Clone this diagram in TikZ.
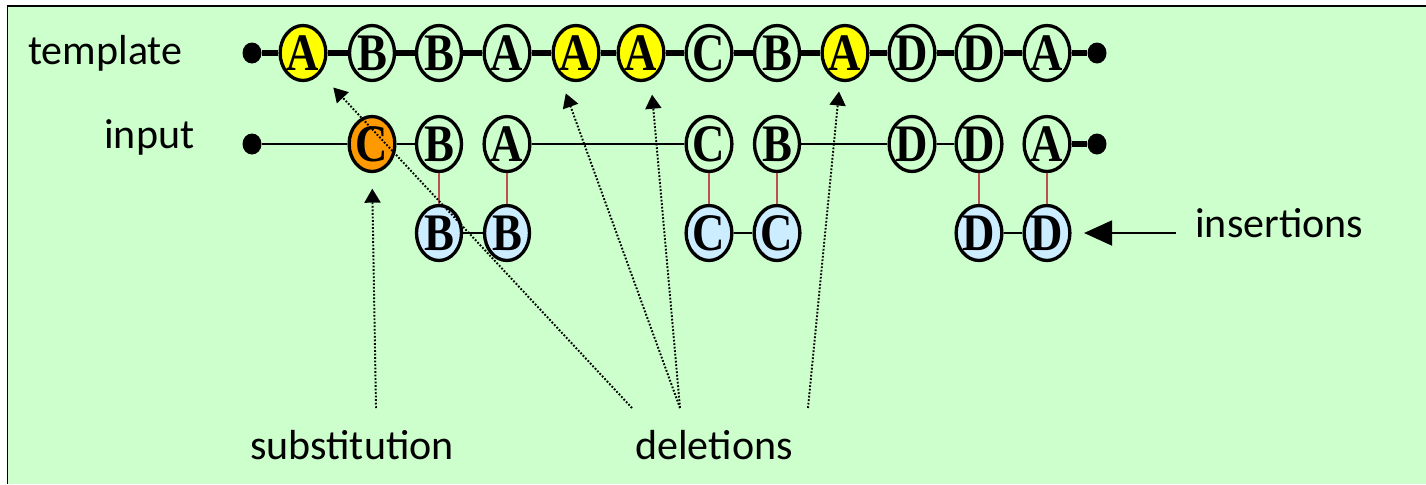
\documentclass[tikz,border=0pt]{standalone}
\usepackage{fontspec}
\setmainfont{Carlito}
\newfontfamily\letterfont{Liberation Serif}[FakeStretch=0.85,UprightFont={* Bold}]
\usepackage{tikz}
\usetikzlibrary{shapes.geometric,arrows.meta}
\definecolor{bggreen}{HTML}{CCFFCC}
\definecolor{delyellow}{HTML}{FFFF00}
\definecolor{suborange}{HTML}{FF9900}
\definecolor{insblue}{HTML}{CCECFF}
\definecolor{linkred}{HTML}{C0504D}

\begin{document}
\begin{tikzpicture}[x=0.02cm,y=-0.02cm,
    sym/.style={ellipse,draw,line width=1.9pt,minimum width=0.9cm,minimum height=1.1cm,inner sep=0pt,
        font=\letterfont\fontsize{30}{32}\selectfont},
    enddot/.style={ellipse,fill=black,minimum width=0.38cm,minimum height=0.42cm,inner sep=0pt},
    lbl/.style={anchor=base west,inner sep=0pt,font=\fontsize{23.9}{28}\selectfont},
    tline/.style={line width=3pt},
    iline/.style={line width=1.5pt},
    redlink/.style={draw=linkred,line width=1.2pt},
    pointer/.style={dash pattern=on 1pt off 1pt,line width=1.1pt,-{Triangle[length=0.28cm,width=0.32cm]}}]
    \useasboundingbox (0,0) rectangle (1426,484);
    \fill[bggreen] (7.5,6) rectangle (1426,484);
    \draw[line width=1.1pt] (7.5,484) -- (7.5,6) -- (1426,6);
    % labels
    \node[lbl] (tmpllbl) at (28,64) {template};
    \node[lbl] (inplbl) at (104,148) {input};
    \node[lbl] (sublbl) at (250,459) {substitution};
    \node[lbl] (dellbl) at (635,459) {deletions};
    \node[lbl] (inslbl) at (1195,237) {insertions};
    % template
    \node[enddot] (tl) at (252,53) {};
    \node[sym,fill=delyellow] (t1) at (303,53) {A};
    \node[sym] (t2) at (372,53) {B};
    \node[sym] (t3) at (439,53) {B};
    \node[sym] (t4) at (507,53) {A};
    \node[sym,fill=delyellow] (t5) at (576,53) {A};
    \node[sym,fill=delyellow] (t6) at (641,53) {A};
    \node[sym] (t7) at (709,53) {C};
    \node[sym] (t8) at (777,53) {B};
    \node[sym,fill=delyellow] (t9) at (845,53) {A};
    \node[sym] (t10) at (912,53) {D};
    \node[sym] (t11) at (979,53) {D};
    \node[sym] (t12) at (1047,53) {A};
    \node[enddot] (tr) at (1097,53) {};
    \draw[tline] (tl) -- (t1) -- (t2) -- (t3) -- (t4) -- (t5) -- (t6) -- (t7) -- (t8) -- (t9) -- (t10) -- (t11) -- (t12) -- (tr);
    % input
    \node[enddot] (il) at (252,144) {};
    \node[sym,fill=suborange] (i1) at (372,144) {C};
    \node[sym] (i2) at (439,144) {B};
    \node[sym] (i3) at (507,144) {A};
    \node[sym] (i4) at (709,144) {C};
    \node[sym] (i5) at (777,144) {B};
    \node[sym] (i6) at (912,144) {D};
    \node[sym] (i7) at (979,144) {D};
    \node[sym] (i8) at (1047,144) {A};
    \node[enddot] (ir) at (1097,144) {};
    \draw[iline] (il) -- (i1) -- (i2);
    \draw[iline] (i3) -- (i4);
    \draw[iline] (i5) -- (i6) -- (i7);
    \draw[tline] (i8) -- (ir);
    % inserted
    \node[sym,fill=insblue] (n1) at (439,233) {B};
    \node[sym,fill=insblue] (n2) at (507,233) {B};
    \node[sym,fill=insblue] (n3) at (709,233) {C};
    \node[sym,fill=insblue] (n4) at (777,233) {C};
    \node[sym,fill=insblue] (n5) at (979,233) {D};
    \node[sym,fill=insblue] (n6) at (1047,233) {D};
    \draw[iline] (n1) -- (n2);
    \draw[iline] (n3) -- (n4);
    \draw[iline] (n5) -- (n6);
    \draw[redlink] (i2) -- (n1);
    \draw[redlink,line width=1.6pt] (i3) -- (n2);
    \draw[redlink] (i4) -- (n3);
    \draw[redlink] (i5) -- (n4);
    \draw[redlink] (i7) -- (n5);
    \draw[redlink] (i8) -- (n6);
    % pointers
    \coordinate (subst) at (376,408);
    \coordinate (del1) at (632,408);
    \coordinate (del2) at (680,408);
    \coordinate (del3) at (808,408);
    \coordinate (ins) at (1176,233);
    \draw[pointer,shorten >=0.31cm] (subst) -- (i1.south);
    \draw[pointer,shorten >=0.38cm] (del1) -- (t1.south east);
    \draw[pointer,shorten >=0.42cm] (del2) -- (t5.south west);
    \draw[pointer,shorten >=0.3cm] (del2) -- (t6.-70);
    \draw[pointer,shorten >=0.2cm] (del3) -- (t9.-100);
    \draw[line width=1.1pt,-{Triangle[length=0.56cm,width=0.5cm]},shorten >=0.25cm] (ins) -- (n6.east);
\end{tikzpicture}
\end{document}
